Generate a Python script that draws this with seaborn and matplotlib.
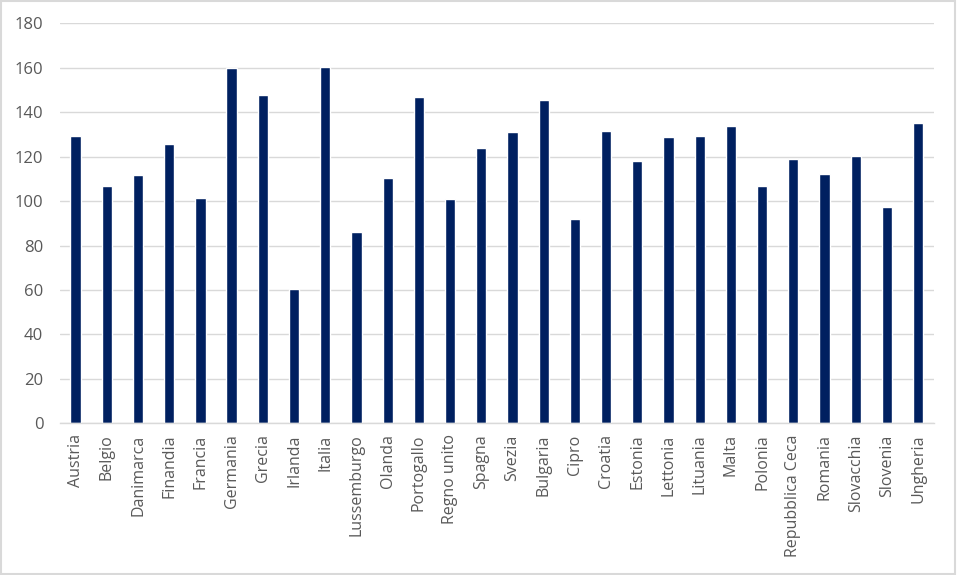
import matplotlib
matplotlib.use("Agg")
import matplotlib.pyplot as plt
import seaborn as sns
import pandas as pd
from matplotlib.patches import Rectangle

countries = ["Austria", "Belgio", "Danimarca", "Finandia", "Francia", "Germania",
             "Grecia", "Irlanda", "Italia", "Lussemburgo", "Olanda", "Portogallo",
             "Regno unito", "Spagna", "Svezia", "Bulgaria", "Cipro", "Croatia",
             "Estonia", "Lettonia", "Lituania", "Malta", "Polonia",
             "Repubblica Ceca", "Romania", "Slovacchia", "Slovenia", "Ungheria"]
values = [129.3, 106.8, 111.7, 125.7, 101.4, 159.9,
          147.7, 60.4, 160.4, 86.1, 110.4, 146.8,
          100.9, 123.9, 131.1, 145.5, 92.0, 131.5,
          118.0, 128.8, 129.3, 133.8, 106.8,
          118.9, 112.2, 120.3, 97.4, 135.1]
yticks = [0, 20, 40, 60, 80, 100, 120, 140, 160, 180]

df = pd.DataFrame({"country": countries, "value": values})

sns.set_theme(style="white")
plt.rcParams["font.family"] = ["Open Sans", "DejaVu Sans"]

fig = plt.figure(figsize=(9.57, 5.75), dpi=100)
ax = fig.add_axes([0.0627, 0.2638, 0.9130, 0.6956])

sns.barplot(data=df, x="country", y="value", color="#002060", saturation=1,
            width=0.33, ax=ax)

ax.set_ylim(0, 180)
ax.set_xlim(-0.5, len(countries) - 0.5)
ax.set_yticks(yticks)
ax.set_yticklabels([str(t) for t in yticks])
ax.yaxis.grid(True, color="#d9d9d9", linewidth=1)
ax.set_axisbelow(True)
for s in ["top", "right", "left"]:
    ax.spines[s].set_visible(False)
ax.spines["bottom"].set_color("#d9d9d9")
ax.spines["bottom"].set_linewidth(1)
ax.set_xlabel("")
ax.set_ylabel("")
ax.tick_params(axis="y", length=0, pad=12, labelsize=12, labelcolor="#595959")
ax.tick_params(axis="x", length=0, pad=8, labelsize=11.5, labelcolor="#595959",
               labelrotation=90)

fig.patches.append(Rectangle((0.001, 0.001), 0.997, 0.997, transform=fig.transFigure,
                             fill=False, edgecolor="#d9d9d9", linewidth=1.5))

fig.savefig("out.png", dpi=100)
